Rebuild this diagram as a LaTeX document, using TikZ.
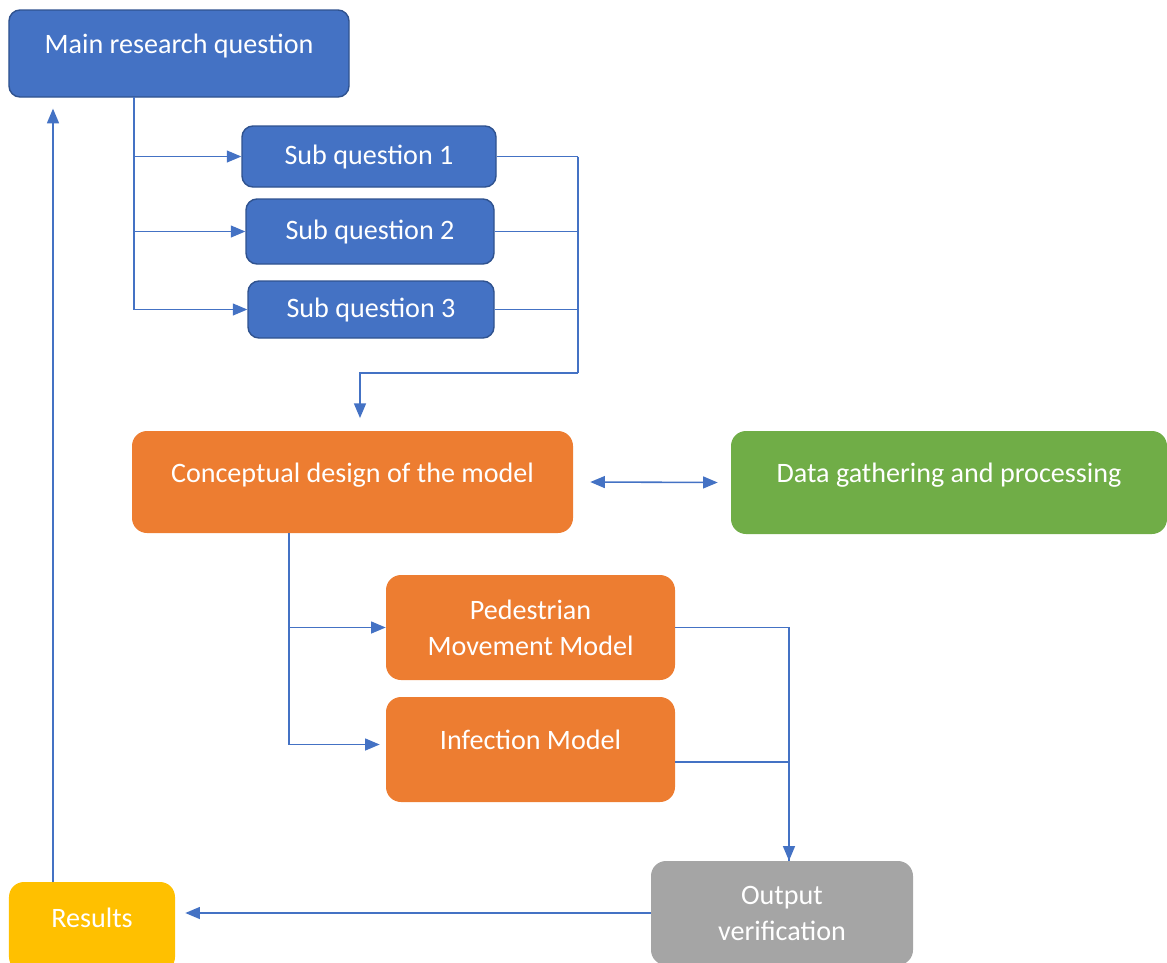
\documentclass[tikz,border=0pt]{standalone}
\usepackage{fontspec}
\setmainfont{Carlito}
\usepackage{tikz}
\usetikzlibrary{positioning}
\usetikzlibrary{arrows}
\definecolor{qblue}{HTML}{4472C4}
\definecolor{qedge}{HTML}{2F528F}
\definecolor{morange}{HTML}{ED7D31}
\definecolor{dgreen}{HTML}{70AD47}
\definecolor{vgray}{HTML}{A5A5A5}
\definecolor{ryellow}{HTML}{FFC000}
\tikzset{
  box/.style={rounded corners=0.3cm, text=white, align=center, inner sep=0pt,
    font=\fontsize{16}{20.5}\selectfont},
  qbox/.style={box, fill=qblue, draw=qedge, line width=0.8pt, rounded corners=0.22cm},
  baseline mid/.style={text height=1.8ex, text depth=1.8ex},
  link/.style={draw=qblue, line width=0.9pt},
  >=triangle 45
}

\begin{document}
\begin{tikzpicture}
\useasboundingbox (0,0) rectangle (23.34,-19.24);
% questions
\node[qbox, baseline mid, minimum width=6.8cm, minimum height=1.74cm] (main) at (3.58,-1.07) {Main research question};
\node[qbox, minimum width=5.08cm, minimum height=1.22cm] (sq1) at (7.38,-3.13) {Sub question 1};
\node[qbox, minimum width=4.96cm, minimum height=1.30cm] (sq2) at (7.40,-4.63) {Sub question 2};
\node[qbox, minimum width=4.92cm, minimum height=1.14cm] (sq3) at (7.42,-6.19) {Sub question 3};
% model
\node[box, baseline mid, fill=morange, minimum width=8.82cm, minimum height=2.04cm] (concept) at (7.05,-9.64) {Conceptual design of the model};
\node[box, baseline mid, fill=dgreen, minimum width=8.72cm, minimum height=2.06cm] (data) at (18.98,-9.65) {Data gathering and processing};
\node[box, fill=morange, minimum width=5.78cm, minimum height=2.1cm] (ped) at (10.61,-12.55) {Pedestrian\\Movement Model};
\node[box, baseline mid, fill=morange, minimum width=5.78cm, minimum height=2.1cm] (inf) at (10.61,-14.99) {Infection Model};
\node[box, fill=vgray, minimum width=5.24cm, minimum height=2.08cm] (out) at (15.64,-18.26) {Output\\verification};
\node[box, baseline mid, fill=ryellow, minimum width=3.32cm, minimum height=1.8cm] (res) at (1.84,-18.54) {Results};

\coordinate (fork) at (2.68,-1.94);
\coordinate (join) at (11.56,-7.46);
\coordinate (into) at (7.20,-8.36);
\coordinate (split) at (5.78,-10.66);
\coordinate (merge) at (15.78,-12.55);
\coordinate (back) at (1.06,-17.64);

\foreach \n in {1,2,3} {
\draw[link,->] (fork) |- (sq\n.west);
\draw[link] (sq\n.east) -- (sq\n.east -| join);
}
\draw[link] (sq1.east -| join) -- (join);
\draw[link,->] (join) -| (into);
\draw[link,<->] ([xshift=0.34cm]concept.east) -- ([xshift=-0.26cm]data.west);
\draw[link,->] (split) |- (ped.west);
\draw[link,->] (split) |- ([xshift=-0.12cm,yshift=0.1cm]inf.west);
\draw[link,->] (ped.east) -| (merge |- out.north);
\draw[link] ([yshift=-0.25cm]inf.east) -| (merge |- out.north);
\draw[link,->,shorten >=0.2cm] (out.west) -- (out.west -| res.east);
\draw[link,->,shorten >=0.22cm] (back) -- (back |- main.south);
\end{tikzpicture}
\end{document}
